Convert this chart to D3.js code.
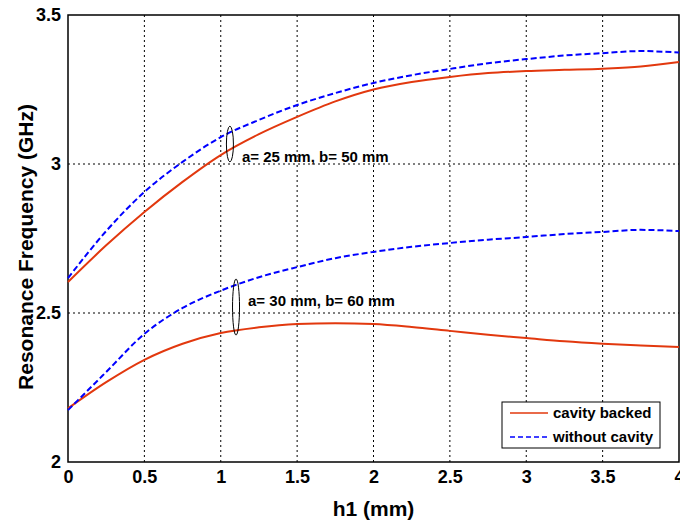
<!DOCTYPE html>
<html>
<head>
<meta charset="utf-8">
<script src="https://cdn.jsdelivr.net/npm/d3@7"></script>
<style>
  body { margin: 0; background: #fff; }
  svg { display: block; font-family: "Liberation Sans", Arial, sans-serif; font-weight: bold; }
</style>
</head>
<body>
<div id="chart"></div>
<script>
// h1 values (mm)
const h1 = [0, 0.25, 0.5, 0.75, 1, 1.25, 1.5, 1.75, 2, 2.25, 2.5, 2.75, 3, 3.25, 3.5, 3.75, 4];

// a = 25 mm, b = 50 mm
const cavity25 = [2.604, 2.727, 2.839, 2.94, 3.03, 3.10, 3.158, 3.21, 3.25, 3.275, 3.292, 3.305, 3.312, 3.316, 3.32, 3.327, 3.342];
const noCavity25 = [2.617, 2.775, 2.906, 3.007, 3.09, 3.148, 3.198, 3.238, 3.272, 3.298, 3.319, 3.338, 3.352, 3.364, 3.372, 3.379, 3.374];

// a = 30 mm, b = 60 mm
const cavity30 = [2.18, 2.268, 2.343, 2.397, 2.433, 2.452, 2.463, 2.466, 2.463, 2.453, 2.44, 2.427, 2.416, 2.405, 2.397, 2.391, 2.386];
const noCavity30 = [2.174, 2.302, 2.43, 2.517, 2.575, 2.62, 2.654, 2.684, 2.705, 2.722, 2.735, 2.746, 2.755, 2.765, 2.772, 2.779, 2.775];

const xTicks = [0, 0.5, 1, 1.5, 2, 2.5, 3, 3.5, 4];
const yTicks = [2, 2.5, 3, 3.5];

// annotations: [h1, freq, ry (GHz), text]
const notes = [
    [1.06, 3.067, 0.06, 'a= 25 mm, b= 50 mm'],
    [1.10, 2.52, 0.094, 'a= 30 mm, b= 60 mm']
];
const legendItems = ['cavity backed', 'without cavity'];

const width = 680;
const height = 522;
const margin = { top: 15, right: 1, bottom: 60, left: 68 };
const red = '#e2380e';
const blue = '#0000ff';

const svg = d3.select('#chart').append('svg')
    .attr('width', width)
    .attr('height', height);

const x = d3.scaleLinear().domain([0, 4]).range([margin.left, width - margin.right]);
const y = d3.scaleLinear().domain([2, 3.5]).range([height - margin.bottom, margin.top]);

// grid
svg.append('g')
    .selectAll('line')
    .data(xTicks.slice(1, -1))
    .join('line')
    .attr('x1', d => x(d)).attr('x2', d => x(d))
    .attr('y1', y(2)).attr('y2', y(3.5))
    .attr('stroke', '#000').attr('stroke-width', 1).attr('stroke-dasharray', '2,3');

svg.append('g')
    .selectAll('line')
    .data(yTicks.slice(1, -1))
    .join('line')
    .attr('x1', x(0)).attr('x2', x(4))
    .attr('y1', d => y(d)).attr('y2', d => y(d))
    .attr('stroke', '#000').attr('stroke-width', 1).attr('stroke-dasharray', '2,3');

// axes
const xAxis = svg.append('g')
    .attr('transform', `translate(0,${y(2)})`)
    .call(d3.axisBottom(x).tickValues(xTicks).tickSize(0).tickPadding(8).tickFormat(d3.format('')));
const yAxis = svg.append('g')
    .attr('transform', `translate(${x(0)},0)`)
    .call(d3.axisLeft(y).tickValues(yTicks).tickSize(0).tickPadding(7).tickFormat(d3.format('')));

[xAxis, yAxis].forEach(g => {
    g.select('.domain').remove();
    g.selectAll('text')
        .attr('fill', '#000')
        .style('font-size', '18px')
        .style('font-family', '"Liberation Sans", Arial, sans-serif')
        .style('font-weight', 'bold');
});

// frame
svg.append('rect')
    .attr('x', x(0)).attr('y', y(3.5))
    .attr('width', x(4) - x(0)).attr('height', y(2) - y(3.5))
    .attr('fill', 'none').attr('stroke', '#000').attr('stroke-width', 1.5);

// curves
const line = d3.line()
    .x((d, i) => x(h1[i]))
    .y(d => y(d))
    .curve(d3.curveMonotoneX);

const series = [
    { values: cavity25, color: red, dash: null },
    { values: noCavity25, color: blue, dash: '6,3' },
    { values: cavity30, color: red, dash: null },
    { values: noCavity30, color: blue, dash: '6,3' }
];

svg.append('g')
    .selectAll('path')
    .data(series)
    .join('path')
    .attr('d', d => line(d.values))
    .attr('fill', 'none')
    .attr('stroke', d => d.color)
    .attr('stroke-width', 2)
    .attr('stroke-dasharray', d => d.dash);

// annotations
const noteG = svg.append('g');
notes.forEach(n => {
    noteG.append('ellipse')
        .attr('cx', x(n[0])).attr('cy', y(n[1]))
        .attr('rx', 3.5).attr('ry', y(n[1] - n[2]) - y(n[1]))
        .attr('fill', 'none').attr('stroke', '#000').attr('stroke-width', 1);
    noteG.append('text')
        .attr('x', x(n[0]) + 12)
        .attr('y', y(n[1]) + (n[2] > 0.07 ? -1 : 18))
        .attr('font-size', 15)
        .attr('fill', '#000')
        .text(n[3]);
});

// axis titles
svg.append('text')
    .attr('x', (x(0) + x(4)) / 2)
    .attr('y', 516)
    .attr('text-anchor', 'middle')
    .attr('font-size', 21)
    .text('h1 (mm)');

svg.append('text')
    .attr('transform', 'translate(33,247) rotate(-90)')
    .attr('text-anchor', 'middle')
    .attr('font-size', 21)
    .text('Resonance Frequency (GHz)');

// legend
const legend = svg.append('g').attr('transform', 'translate(502,402)');
legend.append('rect')
    .attr('width', 158).attr('height', 46)
    .attr('fill', '#fff').attr('stroke', '#000').attr('stroke-width', 1);
legend.selectAll('g')
    .data(legendItems)
    .join('g')
    .attr('transform', (d, i) => `translate(0,${11 + i * 24})`)
    .each(function(d, i) {
        const g = d3.select(this);
        g.append('line')
            .attr('x1', 8).attr('x2', 46)
            .attr('stroke', i === 0 ? red : blue)
            .attr('stroke-width', 1.5)
            .attr('stroke-dasharray', i === 0 ? null : '5,3');
        g.append('text')
            .attr('x', 51).attr('y', 5)
            .attr('font-size', 15)
            .text(d);
    });
</script>
</body>
</html>
